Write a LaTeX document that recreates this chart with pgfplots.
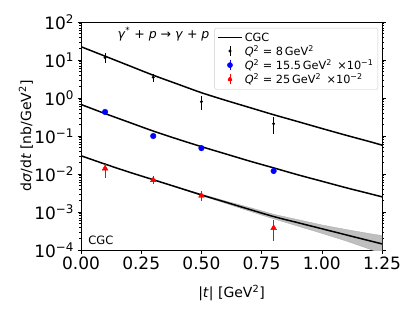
\documentclass[border=0pt]{standalone}
\usepackage{fontspec}
\setmainfont{DejaVu Sans}
\usepackage{pgfplots}
\pgfplotsset{compat=1.18}
\definecolor{mpred}{RGB}{255,0,0}
\definecolor{mpblue}{RGB}{0,0,255}
\begin{document}
\begin{tikzpicture}
\begin{axis}[
  scale only axis, width=301pt, height=228pt,
  ymode=log, xmin=0, xmax=1.25, ymin=1e-4, ymax=1e2,
  xtick={0,0.25,0.5,0.75,1,1.25},
  xticklabels={0.00,0.25,0.50,0.75,1.00,1.25},
  ytick={1e-4,1e-3,1e-2,1e-1,1,10,100},
  yticklabels={10\textsuperscript{−4},10\textsuperscript{−3},10\textsuperscript{−2},10\textsuperscript{−1},10\textsuperscript{0},10\textsuperscript{1},10\textsuperscript{2}},
  tick label style={font=\fontsize{17}{20}\selectfont},
  label style={font=\fontsize{14}{17}\selectfont},
  xlabel={|\textit{t}| [GeV\textsuperscript{2}]},
  ylabel={d\textit{σ}/d\textit{t} [nb/GeV\textsuperscript{2}]},
  xlabel style={at={(rel axis cs:0.5,-0.19)}, anchor=center},
  ylabel style={at={(rel axis cs:-0.183,0.5)}, anchor=center},
  tick align=outside, xtick pos=bottom, ytick pos=both,
  major tick length=3.5pt, minor tick length=2pt,
  tick style={black, line width=0.6pt},
  axis line style={line width=0.8pt},
  legend cell align=left,
  legend style={at={(rel axis cs:0.987,0.974)}, anchor=north east,
    font=\fontsize{11.3}{11.5}\selectfont, draw=black!20, rounded corners=2pt,
    row sep=-1.2pt, inner sep=2.5pt},
]
% uncertainty band around lowest curve
\addplot[fill=black!25, draw=black!35, line width=0.3pt, forget plot] coordinates {
(0.3,0.00708) (0.4,0.00457) (0.5,0.00295) (0.6,0.00195) (0.7,0.00132) (0.8,0.000871)
(0.9,0.000631) (1.0,0.000457) (1.1,0.000347) (1.2,0.000269) (1.25,0.000240)
(1.25,0.0000794) (1.2,0.000105) (1.1,0.000174) (1.0,0.000275) (0.9,0.000427)
(0.8,0.000661) (0.7,0.00105) (0.6,0.00170) (0.5,0.00269) (0.4,0.00437) (0.3,0.00708)
} -- cycle;
% CGC curves
\addplot[black, line width=1.5pt, smooth, mark=none,
  legend image code/.code={\draw[black, line width=1.5pt] (0cm,0cm) -- (0.85cm,0cm);}] coordinates {
(0,22.4) (0.1,12.6) (0.2,7.08) (0.3,3.98) (0.4,2.34) (0.5,1.38) (0.6,0.871) (0.7,0.562)
(0.8,0.363) (0.9,0.240) (1.0,0.158) (1.1,0.105) (1.2,0.0708) (1.25,0.0575)};
\addlegendentry{CGC}
\addplot[black, line width=1.5pt, smooth, mark=none, forget plot] coordinates {
(0,0.676) (0.1,0.389) (0.2,0.229) (0.3,0.135) (0.4,0.0832) (0.5,0.0525) (0.6,0.0339)
(0.7,0.0219) (0.8,0.0145) (0.9,0.00955) (1.0,0.00646) (1.1,0.00437) (1.2,0.00302) (1.25,0.00251)};
\addplot[black, line width=1.5pt, smooth, mark=none, forget plot] coordinates {
(0,0.0302) (0.1,0.0182) (0.2,0.0112) (0.3,0.00708) (0.4,0.00447) (0.5,0.00282) (0.6,0.00182)
(0.7,0.00117) (0.8,0.000759) (0.9,0.000525) (1.0,0.000363) (1.1,0.000251) (1.2,0.000174) (1.25,0.000145)};
% data Q2 = 8
\addplot[black, only marks, mark=*, mark size=1.3pt,
  legend image code/.code={\draw[black, line width=0.8pt] (0.425cm,-0.17cm) -- (0.425cm,0.17cm);
    \fill[black] (0.425cm,0cm) circle (1.3pt);},
  error bars/.cd, y dir=both, y explicit, error mark=none,
  error bar style={black, line width=0.8pt}]
  coordinates {
  (0.1,11.5) += (0,3.5) -= (0,3.0)
  (0.3,3.5) += (0,0.7) -= (0,0.8)
  (0.5,0.80) += (0,0.33) -= (0,0.32)
  (0.8,0.21) += (0,0.10) -= (0,0.10)};
\addlegendentry{\textit{Q}\textsuperscript{2} = 8\,GeV\textsuperscript{2}}
% data Q2 = 15.5 x 0.1
\addplot[mpblue, only marks, mark=*, mark size=2.8pt,
  legend image code/.code={\draw[mpblue, line width=0.8pt] (0.425cm,-0.17cm) -- (0.425cm,0.17cm);
    \fill[mpblue] (0.425cm,0cm) circle (2.6pt);},
  error bars/.cd, y dir=both, y explicit, error mark=none,
  error bar style={mpblue, line width=0.8pt}]
  coordinates {
  (0.1,0.43) += (0,0.04) -= (0,0.04)
  (0.3,0.10) += (0,0.01) -= (0,0.01)
  (0.5,0.048) += (0,0.008) -= (0,0.008)
  (0.8,0.012) += (0,0.002) -= (0,0.002)};
\addlegendentry{\textit{Q}\textsuperscript{2} = 15.5\,GeV\textsuperscript{2} \,×10\textsuperscript{−1}}
% data Q2 = 25 x 0.01
\addplot[mpred, only marks, mark=triangle*, mark size=3.3pt,
  legend image code/.code={\draw[mpred, line width=0.8pt] (0.425cm,-0.17cm) -- (0.425cm,0.17cm);
    \fill[mpred] (0.425cm,0.11cm) -- (0.325cm,-0.06cm) -- (0.525cm,-0.06cm) -- cycle;},
  error bars/.cd, y dir=both, y explicit, error mark=none,
  error bar style={mpred, line width=0.8pt}]
  coordinates {
  (0.1,0.014) += (0,0.005) -= (0,0.006)
  (0.3,0.0069) += (0,0.002) -= (0,0.0014)
  (0.5,0.0027) += (0,0.0008) -= (0,0.0007)
  (0.8,0.00038) += (0,0.00024) -= (0,0.00021)};
\addlegendentry{\textit{Q}\textsuperscript{2} = 25\,GeV\textsuperscript{2} \,×10\textsuperscript{−2}}
\node[font=\fontsize{12.5}{14}\selectfont] at (rel axis cs:0.274,0.947)
  {\textit{γ}\textsuperscript{*} + \textit{p} → \textit{γ} + \textit{p}};
\node[font=\fontsize{11.5}{13}\selectfont] at (rel axis cs:0.066,0.042) {CGC};
\coordinate (bl) at (rel axis cs:-0.2691,-0.2675);
\coordinate (tr) at (rel axis cs:1.1096,1.0965);
\end{axis}
\pgfresetboundingbox
\path[use as bounding box] (bl) rectangle (tr);
\end{tikzpicture}
\end{document}
